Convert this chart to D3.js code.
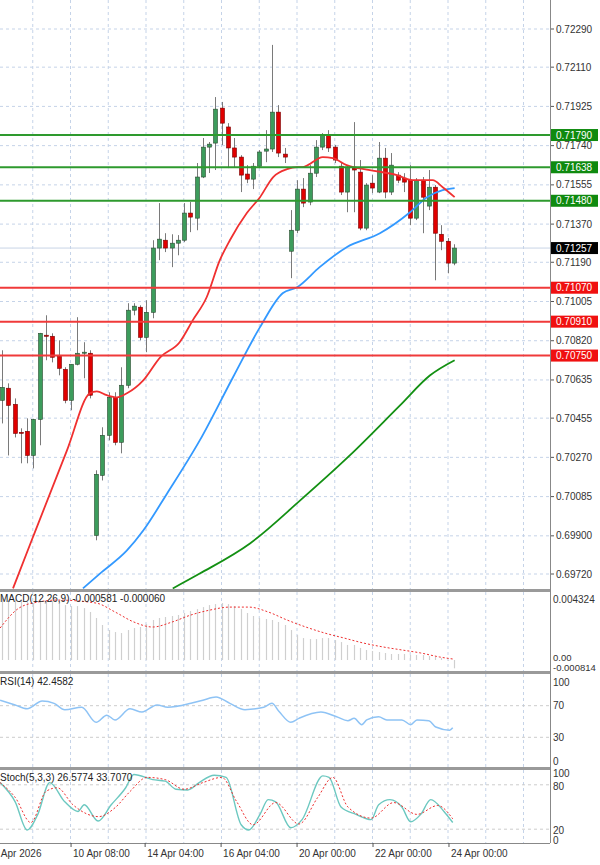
<!DOCTYPE html>
<html><head><meta charset="utf-8">
<script src="https://cdn.jsdelivr.net/npm/d3@7/dist/d3.min.js"></script>
<style>body{margin:0;background:#fff}svg{display:block;font-family:"Liberation Sans",Arial,sans-serif}</style>
</head><body><svg id="c" width="600" height="865"></svg>
<script>
const open=[.70539,.70596,.70520,.70388,.70393,.70279,.70449,.70846,.70841,.70747,.70685,.70539,.70709,.70761,.70761,.69902,.70185,.70374,.70553,.70341,.70610,.70964,.70978,.70836,.70954,.71257,.71294,.71257,.71280,.71294,.71422,.71398,.71592,.71733,.71752,.71917,.71828,.71729,.71686,.71606,.71582,.71643,.71714,.71724,.71898,.71700,.71242,.71341,.71535,.71474,.71610,.71733,.71790,.71733,.71643,.71521,.71634,.71615,.71351,.71563,.71521,.71681,.71521,.71601,.71587,.71577,.71398,.71577,.71455,.71544,.71322,.71289,.71186];
const close=[.70600,.70515,.70383,.70385,.70279,.70449,.70855,.70841,.70742,.70690,.70539,.70709,.70761,.70766,.70563,.70190,.70374,.70553,.70341,.70610,.70964,.70983,.70836,.70954,.71257,.71299,.71257,.71280,.71294,.71422,.71403,.71592,.71733,.71747,.71912,.71846,.71729,.71686,.71601,.71582,.71643,.71710,.71724,.71898,.71705,.71686,.71341,.71535,.71469,.71610,.71733,.71790,.71729,.71672,.71521,.71639,.71625,.71351,.71554,.71540,.71681,.71521,.71648,.71577,.71568,.71398,.71577,.71497,.71544,.71327,.71289,.71186,.71257];
const high=[.70775,.70619,.70548,.70407,.70454,.70452,.70857,.70940,.70855,.70822,.70695,.70709,.70931,.70813,.70775,.70209,.70412,.70577,.70577,.70695,.70997,.70997,.70987,.71011,.71294,.71469,.71327,.71322,.71318,.71469,.71474,.71658,.71776,.71757,.71969,.71946,.71846,.71776,.71695,.71648,.71658,.71719,.71813,.72215,.71931,.71729,.71436,.71577,.71587,.71648,.71766,.71799,.71813,.71743,.71658,.71648,.71851,.71672,.71563,.71601,.71757,.71729,.71705,.71615,.71610,.71648,.71587,.71592,.71625,.71554,.71365,.71304,.71275];
const low=[.70430,.70279,.70364,.70242,.70242,.70218,.70327,.70728,.70718,.70657,.70525,.70492,.70704,.70643,.70548,.69879,.70161,.70350,.70327,.70289,.70596,.70940,.70822,.70766,.70926,.71200,.71238,.71167,.71223,.71285,.71332,.71341,.71587,.71611,.71625,.71743,.71634,.71639,.71521,.71563,.71535,.71634,.71662,.71710,.71686,.71658,.71115,.71327,.71450,.71459,.71592,.71719,.71710,.71658,.71507,.71426,.71426,.71341,.71341,.71516,.71516,.71492,.71507,.71563,.71521,.71365,.71389,.71327,.71436,.71105,.71247,.71138,.71176];
const maRed=[[1.75,.69652],[4.9,.69892],[10.35,.70303],[14,.70572],[15.1,.70581],[16.7,.70563],[18.3,.70553],[19.9,.70572],[22.5,.70633],[25.2,.70742],[28.3,.70813],[30.4,.70917],[32.6,.71025],[34.7,.71200],[36.3,.71294],[39,.71422],[41.1,.71497],[43.2,.71592],[45.4,.71629],[47,.71639],[47.9,.71639],[51.1,.71686],[52.7,.71681],[54.9,.71648],[58.6,.71625],[62.9,.71601],[65.4,.71577],[68.6,.71577],[70.2,.71544],[72.1,.71497]];
const maBlue=[[12.9,.69652],[15.6,.69722],[19.9,.69831],[22.5,.69925],[26.3,.70100],[31.5,.70350],[36.8,.70648],[41.1,.70884],[44.7,.71044],[47,.71072],[50.6,.71167],[54.9,.71261],[60.2,.71327],[65,.71426],[67.7,.71497],[70.2,.71530],[72.1,.71540]];
const maGreen=[[27.2,.69652],[31.5,.69722],[39.5,.69864],[47.5,.70067],[55.4,.70279],[63.4,.70515],[68.2,.70657],[72.1,.70728]];
const priceTicks=[.72290,.72110,.71925,.71740,.71555,.71370,.71190,.71005,.70820,.70635,.70455,.70270,.70085,.69900,.69720];
const greenLevels=[.71790,.71638,.71480];
const redLevels=[.71070,.70910,.70750];
const lastPrice=.71257;
const macdHist=[.00432,.00418,.00418,.00411,.00404,.00397,.00418,.00418,.00411,.00404,.00383,.00376,.00376,.00362,.00335,.00293,.00244,.00209,.00195,.00188,.00209,.00223,.00230,.00251,.00279,.00293,.00300,.00307,.00314,.00328,.00342,.00355,.00369,.00383,.00390,.00397,.00390,.00376,.00355,.00328,.00307,.00293,.00286,.00279,.00265,.00244,.00209,.00174,.00153,.00146,.00146,.00153,.00153,.00139,.00125,.00105,.00105,.00084,.00070,.00063,.00056,.00049,.00042,.00042,.00042,.00035,.00035,.00035,.00028,.00021,.00014,-.00002,-.00058];
const macdSignal=[[-0.3,.00223],[2.7,.00362],[5.7,.00404],[8.8,.00418],[15,.00397],[18,.00335],[21,.00265],[24,.00230],[27.1,.00265],[30.1,.00314],[33.1,.00348],[36.3,.00369],[39.3,.00369],[42.4,.00335],[45.4,.00279],[48.4,.00230],[51.4,.00188],[54.5,.00153],[57.6,.00118],[60.7,.00091],[63.7,.00070],[66.7,.00049],[69.7,.00021],[71.8,.00007]];
const rsi=[[-0.3,77],[2.1,71],[4,66],[6.4,76],[8.3,73],[10,65],[12.7,68],[15,49],[16.7,58],[18,52],[20.4,66],[22.3,62],[24.7,71],[26.4,68],[30.1,73],[32,77],[34.1,81],[36.3,73],[38.7,65],[41.7,68],[43,73],[44.1,63],[46,49],[47.3,54],[50.8,62],[53.3,56],[55.1,51],[56.1,54],[57.3,46],[58.1,52],[60,56],[61.3,52],[63.7,52],[65.1,46],[66.1,52],[68,51],[69.1,43],[71.3,39],[71.8,42]];
const stochK=[[-0.3,83],[2.1,57],[4,19],[5.7,40],[7.6,83],[10,57],[12.1,44],[13.1,53],[15.3,31],[17.4,53],[19.7,76],[21,94],[24,87],[26,85],[27.7,74],[29.6,73],[31.4,83],[33.8,93],[35.7,90],[38.1,26],[39.3,19],[41.1,40],[42.4,60],[43.6,57],[46,22],[47.8,33],[51.1,92],[52.1,90],[54,50],[56.4,40],[58.8,33],[60,53],[61.8,60],[63.7,50],[65.1,30],[66.7,40],[68.3,60],[70.4,44],[71.8,29]];
const stochD=[[-0.3,83],[2.1,63],[4.6,29],[7,71],[8.8,76],[11.3,53],[15.4,37],[18,49],[20.4,71],[23.1,90],[26,87],[29,74],[32,83],[35,90],[37.4,57],[40,26],[43.6,56],[47.3,27],[50.3,63],[52.7,90],[55.1,50],[58.8,35],[62.4,56],[66.1,40],[69.4,52],[71.8,34]];
const timeLabels=[[-0.5,"Apr 2026"],[11,"10 Apr 08:00"],[22.8,"14 Apr 04:00"],[34.9,"16 Apr 04:00"],[47,"20 Apr 00:00"],[59.1,"22 Apr 00:00"],[71.2,"24 Apr 00:00"]];

const svg=d3.select("#c");
const AX=550, GRID="#c5d3e8";
const x=d3.scaleLinear().domain([0,72]).range([2,454]);
const y=d3.scaleLinear().domain([.69720,.72290]).range([574,29]);
const P={main:[0,590],macd:[592,672],rsi:[674,768],st:[770,843]};
const ym=d3.scaleLinear().domain([0,.004324]).range([660,598]);
const yr=d3.scaleLinear().domain([0,100]).range([761,682]);
const ys=d3.scaleLinear().domain([0,100]).range([844,770]);
const gridX=d3.range(-5,AX,37.75);
Object.entries(P).forEach(([k,[t,b]])=>{
  svg.append("clipPath").attr("id","clip"+k).append("rect").attr("x",0).attr("y",t).attr("width",AX).attr("height",b-t);
});
function vgrid(t,b){gridX.forEach(gx=>svg.append("line").attr("x1",gx).attr("x2",gx).attr("y1",t).attr("y2",b).attr("stroke",GRID).attr("stroke-dasharray","3,3"));}
function hline(yv,col,dash){svg.append("line").attr("x1",0).attr("x2",AX).attr("y1",yv).attr("y2",yv).attr("stroke",col).attr("stroke-dasharray",dash||null);}
vgrid(0,590);
priceTicks.forEach(p=>hline(y(p),GRID,"3,3"));
const gm=svg.append("g");
priceTicks.forEach(p=>{gm.append("line").attr("x1",AX).attr("x2",AX+4).attr("y1",y(p)).attr("y2",y(p)).attr("stroke","#555");
  gm.append("text").attr("x",556).attr("y",y(p)+3.5).attr("font-size",10).attr("fill","#333").text(p.toFixed(5));});
hline(y(lastPrice),"#c8d4e6");
const main=svg.append("g").attr("clip-path","url(#clipmain)");
const cw=4;
open.forEach((o,i)=>{
  const c=close[i],up=c>=o,cx=Math.round(x(i))+0.5;
  main.append("line").attr("x1",cx).attr("x2",cx).attr("y1",y(high[i])).attr("y2",y(low[i])).attr("stroke","#7a7a7a");
  const t=y(Math.max(o,c)),h=Math.max(1,Math.abs(y(o)-y(c)));
  main.append("rect").attr("x",cx-cw/2).attr("y",t).attr("width",cw).attr("height",h).attr("fill",up?"#3c9c5c":"#e00000").attr("stroke",up?"#2a4a30":"#700").attr("stroke-width",0.6);
});
const line=(xs,yS)=>d3.line().x(d=>xs(d[0])).y(d=>yS(d[1])).curve(d3.curveMonotoneX);
main.append("path").attr("d",line(x,y)(maGreen)).attr("fill","none").attr("stroke","#139013").attr("stroke-width",1.8);
main.append("path").attr("d",line(x,y)(maBlue)).attr("fill","none").attr("stroke","#3399ff").attr("stroke-width",1.8);
main.append("path").attr("d",line(x,y)(maRed)).attr("fill","none").attr("stroke","#f03030").attr("stroke-width",1.8);
function level(p,col,box){
  svg.append("line").attr("x1",0).attr("x2",AX).attr("y1",y(p)).attr("y2",y(p)).attr("stroke",col).attr("stroke-width",2);
  svg.append("rect").attr("x",AX+1).attr("y",y(p)-6).attr("width",47).attr("height",12).attr("fill",box);
  svg.append("text").attr("x",556).attr("y",y(p)+3.5).attr("font-size",10).attr("fill","#fff").text(p.toFixed(5));
}
greenLevels.forEach(p=>level(p,"#2e9a2e","#0f8a0f"));
redLevels.forEach(p=>level(p,"#f03a3a","#f01010"));
svg.append("rect").attr("x",AX+1).attr("y",y(lastPrice)-6).attr("width",47).attr("height",12).attr("fill","#000");
svg.append("text").attr("x",556).attr("y",y(lastPrice)+3.5).attr("font-size",10).attr("fill","#fff").text(lastPrice.toFixed(5));
// MACD
vgrid(592,672);
const gmac=svg.append("g").attr("clip-path","url(#clipmacd)");
macdHist.forEach((v,i)=>{const cx=Math.round(x(i))+0.5;gmac.append("line").attr("x1",cx).attr("x2",cx).attr("y1",ym(0)).attr("y2",ym(v)).attr("stroke","#cfcfcf").attr("stroke-width",1.2);});
gmac.append("path").attr("d",line(x,ym)(macdSignal)).attr("fill","none").attr("stroke","#ee3030").attr("stroke-dasharray","2,2");
svg.append("text").attr("x",0).attr("y",602).attr("font-size",10).attr("fill","#222").text("MACD(12,26,9) -0.000581 -0.000060");
[["0.004324",600,10],["0.00",658,9.5],["-0.000814",668,9.5]].forEach(([t,yy,fs])=>svg.append("text").attr("x",553).attr("y",yy+3).attr("font-size",fs).attr("fill","#333").text(t));
// RSI
vgrid(674,768);
[70,30].forEach(v=>hline(yr(v),"#ccc","3,3"));
const grsi=svg.append("g").attr("clip-path","url(#cliprsi)");
grsi.append("path").attr("d",line(x,yr)(rsi)).attr("fill","none").attr("stroke","#8ec3f5").attr("stroke-width",1.5);
svg.append("text").attr("x",0).attr("y",685).attr("font-size",10).attr("fill","#222").text("RSI(14) 42.4582");
[100,70,30,0].forEach(v=>svg.append("text").attr("x",553).attr("y",yr(v)+3.5).attr("font-size",10).attr("fill","#333").text(v));
// Stoch
vgrid(770,843);
[80,20].forEach(v=>hline(ys(v),"#ccc","3,3"));
const gst=svg.append("g").attr("clip-path","url(#clipst)");
gst.append("path").attr("d",line(x,ys)(stochK)).attr("fill","none").attr("stroke","#6cc8c0").attr("stroke-width",1.4);
gst.append("path").attr("d",line(x,ys)(stochD)).attr("fill","none").attr("stroke","#ee3030").attr("stroke-dasharray","2,2");
svg.append("text").attr("x",0).attr("y",781).attr("font-size",10).attr("fill","#222").text("Stoch(5,3,3) 26.5774 33.7070");
[[100,773],[80,786],[20,830],[0,840]].forEach(([v,yy])=>svg.append("text").attr("x",553).attr("y",yy+3.5).attr("font-size",10).attr("fill","#333").text(v));
[590,672,768].forEach(b=>{svg.append("rect").attr("x",0).attr("y",b-1).attr("width",AX).attr("height",3).attr("fill","#9a9a9a");});
svg.append("line").attr("x1",0).attr("x2",AX).attr("y1",843.5).attr("y2",843.5).attr("stroke","#888");
svg.append("line").attr("x1",AX+0.5).attr("x2",AX+0.5).attr("y1",0).attr("y2",843).attr("stroke","#888");
svg.append("rect").attr("x",0).attr("y",844).attr("width",600).attr("height",21).attr("fill","#fff");
timeLabels.forEach(([i,t])=>{const tx=x(i);svg.append("line").attr("x1",tx).attr("x2",tx).attr("y1",843).attr("y2",847).attr("stroke","#555");
  svg.append("text").attr("x",tx+2).attr("y",857).attr("font-size",10).attr("fill","#333").text(t);});
</script></body></html>
